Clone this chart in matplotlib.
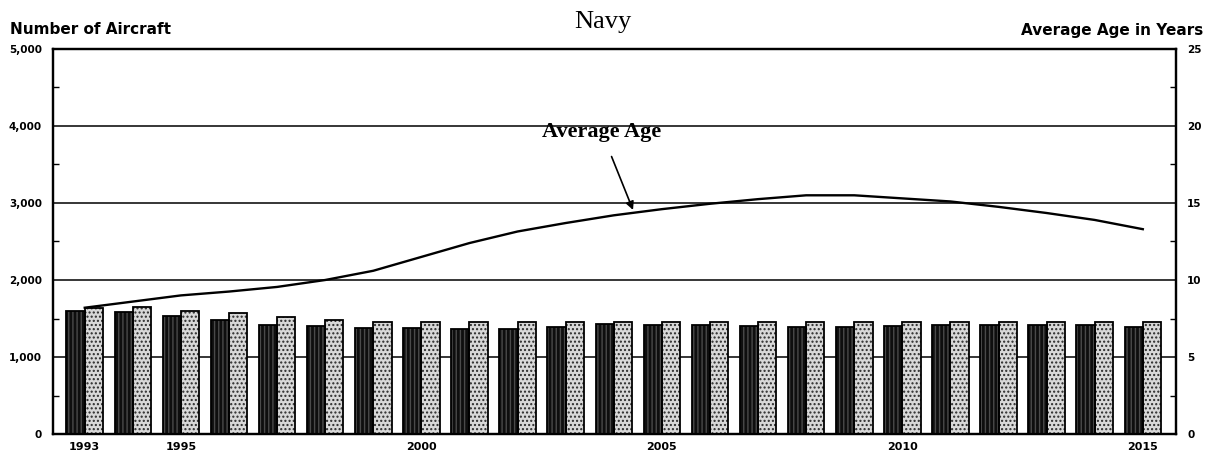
import matplotlib
matplotlib.use("Agg")
import matplotlib.pyplot as plt
import numpy as np

years = list(range(1993, 2016))
aircraft_dark = [1600, 1580, 1535, 1475, 1420, 1405, 1375, 1375, 1370, 1370, 1390, 1430,
                 1415, 1410, 1400, 1385, 1390, 1400, 1410, 1410, 1410, 1410, 1390]
aircraft_light = [1640, 1650, 1600, 1570, 1520, 1485, 1460, 1460, 1460, 1460, 1460, 1460,
                  1455, 1460, 1455, 1460, 1455, 1455, 1455, 1455, 1455, 1460, 1460]
avg_age = [8.2, 8.6, 9.0, 9.25, 9.55, 10.0, 10.6, 11.5, 12.4, 13.15, 13.7, 14.2,
           14.6, 14.95, 15.25, 15.5, 15.5, 15.3, 15.1, 14.75, 14.35, 13.9, 13.3]
left_ticks = [0, 1000, 2000, 3000, 4000, 5000]
left_labels = ["0", "1,000", "2,000", "3,000", "4,000", "5,000"]
right_ticks = [0, 5, 10, 15, 20, 25]
right_labels = ["0", "5", "10", "15", "20", "25"]
x_ticks = [1993, 1995, 2000, 2005, 2010, 2015]

W, H = 1209, 457
fig = plt.figure(figsize=(W / 100, H / 100), dpi=100)
ax = fig.add_axes([53 / W, 1 - 434 / H, (1176 - 53) / W, (434 - 49) / H])
ax2 = ax.twinx()

x = np.array(years, dtype=float)
bw = 0.38
# dark bars (speckled)
ax.bar(x - bw / 2, aircraft_dark, width=bw, facecolor="#0e0e0e", edgecolor="#4a4a4a",
       hatch="||||", linewidth=0, zorder=3)
ax.bar(x - bw / 2, aircraft_dark, width=bw, fill=False, edgecolor="black", linewidth=1.3, zorder=4)
# light bars (dotted)
ax.bar(x + bw / 2, aircraft_light, width=bw, facecolor="#d8d8d8", edgecolor="#2a2a2a",
       hatch="....", linewidth=0, zorder=3)
ax.bar(x + bw / 2, aircraft_light, width=bw, fill=False, edgecolor="black", linewidth=1.3, zorder=4)

ax.set_xlim(1992.34, 2015.69)
ax.set_ylim(0, 5000)
ax2.set_ylim(0, 25)

for v in left_ticks[1:-1]:
    ax.axhline(v, color="black", linewidth=1.1, zorder=1)

ax.set_yticks(left_ticks)
ax.set_yticklabels(left_labels)
ax.set_yticks([500, 1500, 2500, 3500, 4500], minor=True)
ax2.set_yticks(right_ticks)
ax2.set_yticklabels(right_labels)
ax2.set_yticks([2.5, 7.5, 12.5, 17.5, 22.5], minor=True)
ax.set_xticks(x_ticks)
ax.set_xticklabels([str(t) for t in x_ticks])

for lab in ax.get_yticklabels() + ax2.get_yticklabels():
    lab.set_fontsize(7.5)
    lab.set_fontweight("bold")
for lab in ax.get_xticklabels():
    lab.set_fontsize(8)
    lab.set_fontweight("bold")
ax.tick_params(axis="y", which="major", length=0, pad=8)
ax.tick_params(axis="y", which="minor", direction="in", length=4, width=1)
ax2.tick_params(axis="y", which="major", length=0, pad=8)
ax2.tick_params(axis="y", which="minor", direction="in", length=4, width=1)
ax.tick_params(axis="x", length=0, pad=6)

for a in (ax, ax2):
    for s in a.spines.values():
        s.set_linewidth(1.6)
        s.set_color("black")

ax2.plot(x, avg_age, color="black", linewidth=1.7, zorder=5)
ax2.annotate("Average Age", xy=(2004.4, 14.55), xytext=(2003.75, 19.6),
             ha="center", va="center", fontsize=16, fontweight="bold",
             family="Liberation Serif",
             arrowprops=dict(arrowstyle="-|>", color="black", lw=1.2,
                             shrinkA=9, shrinkB=0, mutation_scale=12))

fig.text(603 / W, 1 - 22 / H, "Navy", ha="center", va="center", fontsize=19,
         family="Liberation Serif")
fig.text(10 / W, 1 - 30 / H, "Number of Aircraft", ha="left", va="center",
         fontsize=11, fontweight="bold")
fig.text(1203 / W, 1 - 30 / H, "Average Age in Years", ha="right", va="center",
         fontsize=11, fontweight="bold")

fig.savefig("out.png", dpi=100)
